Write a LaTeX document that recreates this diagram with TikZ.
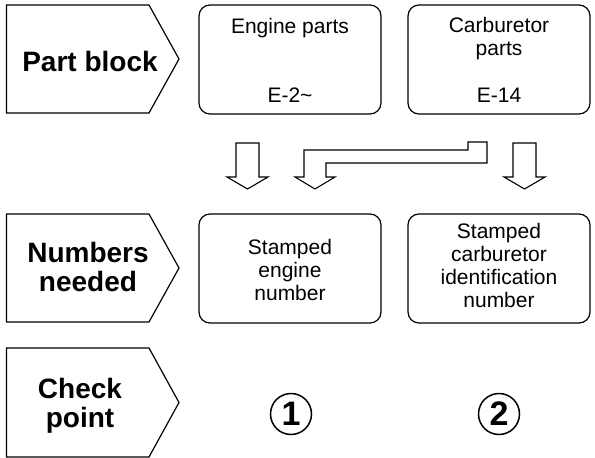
\documentclass[tikz,border=0pt]{standalone}
\usepackage{fontspec}
\setmainfont{Liberation Sans}
\begin{document}
\begin{tikzpicture}[x=1pt,y=-1pt,
		lbl/.style={font=\bfseries\fontsize{28}{28.5}\selectfont, align=center, inner sep=0pt},
		txt/.style={font=\fontsize{21}{23}\selectfont, align=center, inner sep=0pt},
		partbox/.style={draw, line width=1.2pt, rounded corners=11pt, minimum width=182pt, minimum height=109pt, inner sep=0pt},
		chkmark/.style={circle, draw, line width=1.5pt, minimum size=41pt, inner sep=0pt, font=\bfseries\fontsize{34}{34}\selectfont},
		blockarrow/.style={draw, line width=1.1pt, fill=white}]
		\useasboundingbox (0,0) rectangle (595,458);

		% row heads
		\foreach \t/\b in {5/113, 214/322, 348/457}
			\draw[line width=1.2pt] (6.5,\t) -- (149,\t) -- (179,{(\t+\b)/2}) -- (149,\b) -- (6.5,\b) -- cycle;
		\node[lbl, anchor=base] (partblk) at (90,71) {Part block};
		\node[lbl, anchor=base] (numneed) at (88,291) {Numbers\\needed};
		\node[lbl, anchor=base] (chkpt) at (80,427) {Check\\point};

		\node[partbox] (engine) at (290,59.5) {};
		\node[partbox] (carb) at (499,59.5) {};
		\node[partbox] (engnum) at (290,268.5) {};
		\node[partbox] (carbnum) at (499,268.5) {};

		% base is the last line
		\node[txt, anchor=base] (engtxt) at (290,33) {Engine parts};
		\node[txt, anchor=base] (engref) at (290,102) {E-2\textasciitilde};
		\node[txt, anchor=base] (carbtxt) at (499,55) {Carburetor\\parts};
		\node[txt, anchor=base] (carbref) at (499,102) {E-14};
		\node[txt, anchor=base] (engnumtxt) at (290,300) {Stamped\\engine\\number};
		\node[txt, anchor=base] (carbnumtxt) at (499,307) {Stamped\\carburetor\\identification\\number};

		% down arrows
		\foreach \x in {247.5,524.5}
			\draw[blockarrow] (\x-11.5,143) -- (\x+11.5,143) -- (\x+11.5,177) -- (\x+20.5,177) -- (\x,189) -- (\x-20.5,177) -- (\x-11.5,177) -- cycle;
		\draw[blockarrow] (304,177) -- (304,150) -- (468,150) -- (468,142) -- (487,142) -- (487,163) -- (326,163) -- (326,177) -- (335,177) -- (315,189) -- (295,177) -- cycle;

		\node[chkmark] (chk1) at (291,414) {1};
		\node[chkmark] (chk2) at (499,414) {2};
\end{tikzpicture}
\end{document}
